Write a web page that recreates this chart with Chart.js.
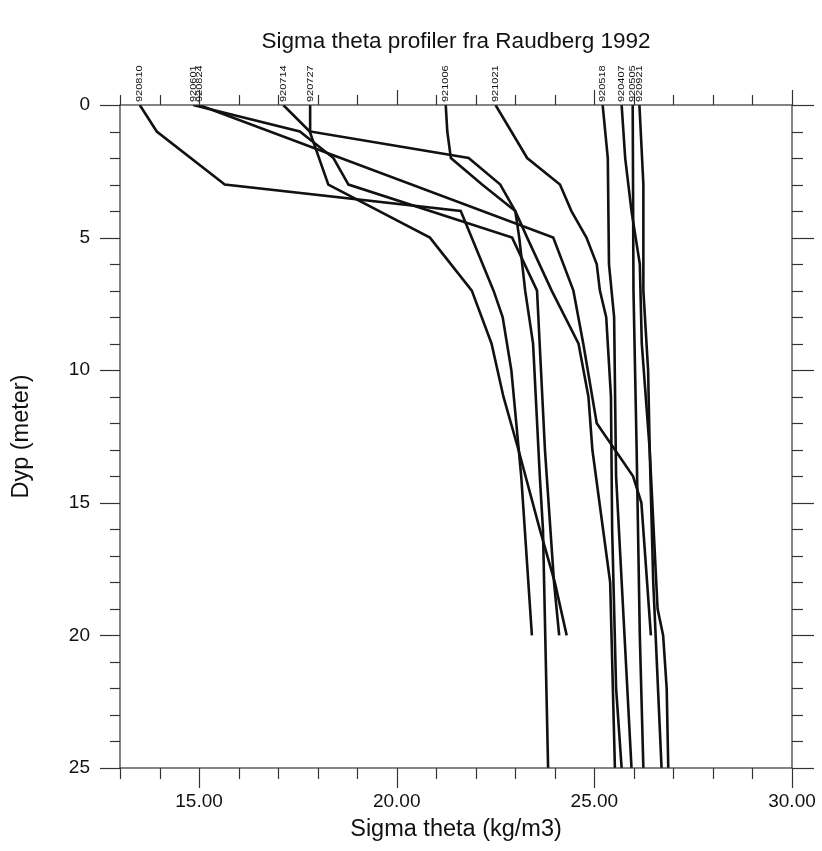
<!DOCTYPE html>
<html><head><meta charset="utf-8">
<script src="https://cdn.jsdelivr.net/npm/chart.js@4.4.1/dist/chart.umd.min.js"></script>
<style>html,body{margin:0;padding:0;background:#fff;}</style>
</head><body>
<canvas id="c" width="822" height="851"></canvas>
<script>
// ---- data (sigma theta, kg/m3, by depth, m) ----
const stations = ['920810','920601','920824','920714','920727','921006','921021','920518','920407','920505','920921'];
const depth920810 = [0,1,3,4,7,8,10,14,20];
const sigma920810 = [13.50,13.93,15.65,21.62,22.45,22.68,22.90,23.15,23.42];
const depth920601 = [0,1,2,3,5,7,10,13,18,20];
const sigma920601 = [14.85,17.55,18.40,18.78,22.92,23.55,23.65,23.75,23.98,24.11];
const depth920824 = [0,5,7,9,12,14,15,20];
const sigma920824 = [15.00,23.96,24.47,24.72,25.06,25.98,26.19,26.43];
const depth920714 = [0,1,3,5,7,9,11,13,16,18,20];
const sigma920714 = [17.13,17.80,18.27,20.84,21.90,22.40,22.70,23.08,23.62,24.00,24.30];
const depth920727 = [0,1,2,3,4,5,7,9,14,16,25];
const sigma920727 = [17.81,17.81,21.82,22.62,23.00,23.10,23.25,23.45,23.62,23.70,23.83];
const depth921006 = [0,1,2,3,4,5,7,9,11,13,18,25];
const sigma921006 = [21.24,21.28,21.37,22.16,23.00,23.30,23.92,24.60,24.85,24.95,25.40,25.52];
const depth921021 = [0,1,2,3,4,5,6,7,8,11,16,22,25];
const sigma921021 = [22.50,22.90,23.30,24.13,24.42,24.80,25.06,25.14,25.30,25.42,25.45,25.55,25.69];
const depth920518 = [0,2,6,8,14,25];
const sigma920518 = [25.21,25.34,25.37,25.50,25.55,25.94];
const depth920407 = [0,2,4,6,9,13,18,25];
const sigma920407 = [25.69,25.78,25.94,26.15,26.20,26.40,26.49,26.70];
const depth920505 = [0,7,13,20,25];
const sigma920505 = [25.97,25.99,26.07,26.15,26.24];
const depth920921 = [0,3,7,10,13,19,20,22,25];
const sigma920921 = [26.14,26.24,26.24,26.36,26.40,26.60,26.74,26.83,26.87];

const xTickValues = [15,20,25,30];
const yTickValues = [0,5,10,15,20,25];
const titleText = 'Sigma theta profiler fra Raudberg 1992';
const xTitle = 'Sigma theta (kg/m3)';
const yTitle = 'Dyp (meter)';

const depthLists = [depth920810,depth920601,depth920824,depth920714,depth920727,depth921006,depth921021,depth920518,depth920407,depth920505,depth920921];
const sigmaLists = [sigma920810,sigma920601,sigma920824,sigma920714,sigma920727,sigma921006,sigma921021,sigma920518,sigma920407,sigma920505,sigma920921];

const FONT = 'Liberation Sans, Arial, sans-serif';
const INK = '#111';

const datasets = stations.map((name, i) => ({
  label: name,
  data: depthLists[i].map((d, j) => ({x: sigmaLists[i][j], y: d})),
  showLine: true, borderColor: INK, borderWidth: 2.6, pointRadius: 0,
  tension: 0, fill: false
}));

const frameTicks = {
  id: 'frameTicks',
  afterDraw(chart) {
    const {ctx, chartArea: a, scales: {x, y}} = chart;
    ctx.save();
    // title centred over the plot area
    ctx.fillStyle = INK;
    ctx.font = '22.5px ' + FONT;
    ctx.textAlign = 'center';
    ctx.textBaseline = 'middle';
    ctx.fillText(titleText, (a.left + a.right) / 2, 42);

    ctx.strokeStyle = '#333';
    ctx.lineWidth = 1.2;
    ctx.strokeRect(a.left, a.top, a.right - a.left, a.bottom - a.top);
    const seg = (x1, y1, x2, y2) => { ctx.beginPath(); ctx.moveTo(x1, y1); ctx.lineTo(x2, y2); ctx.stroke(); };
    for (let v = Math.ceil(x.min); v <= x.max; v++) {
      const px = Math.round(x.getPixelForValue(v)) + 0.5;
      const major = v % 5 === 0;
      seg(px, a.bottom, px, a.bottom + (major ? 20 : 11));
      seg(px, a.top, px, a.top - (major ? 15 : 10));
    }
    for (let v = Math.ceil(y.min); v <= y.max; v++) {
      const py = Math.round(y.getPixelForValue(v)) + 0.5;
      const major = v % 5 === 0;
      seg(a.left, py, a.left - (major ? 20 : 10), py);
      seg(a.right, py, a.right + (major ? 22 : 11), py);
    }
    // station labels at surface value
    ctx.font = '9px ' + FONT;
    ctx.textAlign = 'left';
    ctx.textBaseline = 'middle';
    stations.forEach((name, i) => {
      const px = x.getPixelForValue(sigmaLists[i][0]);
      ctx.save();
      ctx.translate(px, a.top - 3);
      ctx.rotate(-Math.PI / 2);
      ctx.scale(1.22, 1);
      ctx.fillText(name, 0, 0);
      ctx.restore();
    });
    ctx.restore();
  }
};

new Chart(document.getElementById('c'), {
  type: 'scatter',
  data: {datasets},
  options: {
    responsive: false, animation: false, devicePixelRatio: 1,
    layout: {padding: {left: 0, right: 30, top: 105, bottom: 0}},
    plugins: {legend: {display: false}, tooltip: {enabled: false}, title: {display: false}},
    scales: {
      x: {type: 'linear', min: 13, max: 30, position: 'bottom',
        afterBuildTicks: s => { s.ticks = xTickValues.map(v => ({value: v})); },
        afterFit: s => { s.height = 83; s.paddingLeft = 0; s.paddingRight = 0; },
        grid: {display: false}, border: {display: false},
        ticks: {padding: 14, color: INK, autoSkip: false, maxRotation: 0,
          font: {family: FONT, size: 19}, callback: v => Number(v).toFixed(2)},
        title: {display: true, text: xTitle, color: INK,
          font: {family: FONT, size: 23.5}, padding: {top: 0, bottom: 7}}
      },
      y: {type: 'linear', min: 0, max: 25, reverse: true, position: 'left',
        afterBuildTicks: s => { s.ticks = yTickValues.map(v => ({value: v})); },
        afterFit: s => { s.width = 120; s.paddingTop = 0; s.paddingBottom = 0; },
        grid: {display: false}, border: {display: false},
        ticks: {padding: 22, color: INK, autoSkip: false,
          font: {family: FONT, size: 19}, callback: v => String(v)},
        title: {display: true, text: yTitle, color: INK,
          font: {family: FONT, size: 23.5}, padding: {top: 7, bottom: 0}}
      }
    }
  },
  plugins: [frameTicks]
});
</script>
</body></html>
